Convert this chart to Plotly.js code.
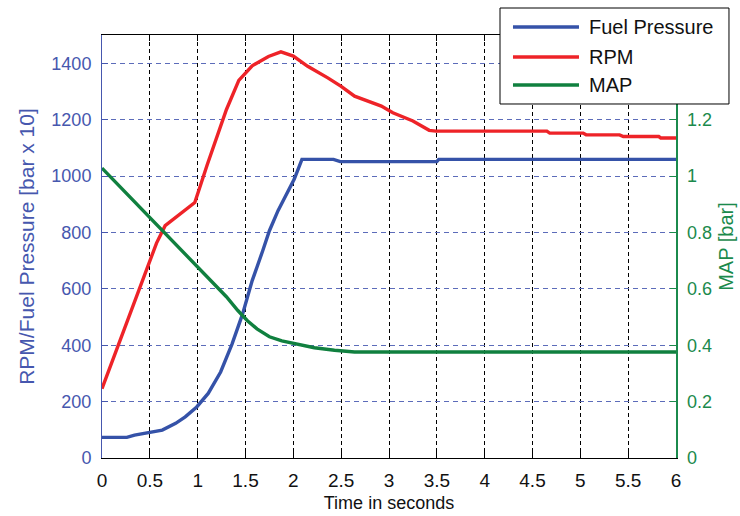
<!DOCTYPE html>
<html>
<head>
<meta charset="utf-8">
<script src="https://cdn.plot.ly/plotly-3.0.1.min.js"></script>
<style>
  html, body { margin: 0; padding: 0; background: #ffffff; }
  #chart { width: 740px; height: 516px; }
</style>
</head>
<body>
<div id="chart"></div>
<script>
// Engine start-up trace: fuel pressure, engine speed and manifold pressure vs. time

// Fuel pressure [bar x 10] (left axis)
const fuelTime = [0, 0.26, 0.34, 0.5, 0.63, 0.77, 0.87, 0.99, 1.11, 1.24, 1.36, 1.47, 1.57, 1.68, 1.75, 1.84, 1.94, 2.01, 2.09, 2.42, 2.49, 3.50, 3.52, 6];
const fuelPressure = [73, 73, 81, 90, 99, 123, 146, 181, 229, 305, 405, 511, 629, 735, 806, 877, 941, 989, 1059, 1059, 1051, 1051, 1059, 1059];

// Engine speed [RPM] (left axis)
const rpmTime = [0, 0.13, 0.27, 0.39, 0.48, 0.57, 0.66, 0.77, 0.89, 0.97, 1.1, 1.2, 1.3, 1.43, 1.57, 1.74, 1.87, 2.0, 2.15, 2.36, 2.5, 2.64, 2.78, 2.92, 3.04, 3.25, 3.42, 3.49, 4.65, 4.68, 5.03, 5.06, 5.41, 5.45, 5.82, 5.84, 6];
const rpm = [246, 365, 490, 602, 688, 762, 824, 853, 883, 906, 1040, 1140, 1235, 1339, 1391, 1424, 1440, 1425, 1389, 1348, 1318, 1283, 1265, 1248, 1224, 1195, 1162, 1159, 1159, 1152, 1152, 1146, 1146, 1140, 1140, 1135, 1135];

// Manifold absolute pressure [bar] (right axis)
const mapTime = [0, 0.5, 1.0, 1.3, 1.42, 1.52, 1.62, 1.75, 1.88, 2.01, 2.22, 2.43, 2.64, 6];
const mapPressure = [1.028, 0.852, 0.678, 0.572, 0.523, 0.487, 0.458, 0.430, 0.415, 0.405, 0.391, 0.382, 0.376, 0.376];

const seriesNames = ['Fuel Pressure', 'RPM', 'MAP'];
const xTicks = [0, 0.5, 1, 1.5, 2, 2.5, 3, 3.5, 4, 4.5, 5, 5.5, 6];
const xTickText = ['0', '0.5', '1', '1.5', '2', '2.5', '3', '3.5', '4', '4.5', '5', '5.5', '6'];
const leftTicks = [0, 200, 400, 600, 800, 1000, 1200, 1400];
const rightTicks = [0, 0.2, 0.4, 0.6, 0.8, 1, 1.2];
const rightTickText = ['0', '0.2', '0.4', '0.6', '0.8', '1', '1.2'];

const BLUE = '#3552a8';
const RED = '#ee2328';
const GREEN = '#10803f';
const AXIS_BLUE = '#4657ae';
const AXIS_GREEN = '#1b8a4c';
const FONT = 'Liberation Sans, Arial, sans-serif';

const traces = [
  { x: fuelTime, y: fuelPressure, name: seriesNames[0], type: 'scatter', mode: 'lines',
    line: { color: BLUE, width: 3.4 }, yaxis: 'y' },
  { x: rpmTime, y: rpm, name: seriesNames[1], type: 'scatter', mode: 'lines',
    line: { color: RED, width: 3.4 }, yaxis: 'y' },
  { x: mapTime, y: mapPressure, name: seriesNames[2], type: 'scatter', mode: 'lines',
    line: { color: GREEN, width: 3.4 }, yaxis: 'y2' }
];

// Boxed legend in the upper right, partly outside the plot area
const legColors = [BLUE, RED, GREEN];
const legRowY = [1.0189, 0.948, 0.8818];
const shapes = [
  { type: 'rect', xref: 'paper', yref: 'paper', x0: 0.6934, x1: 1.0923, y0: 0.8369, y1: 1.0638,
    fillcolor: '#ffffff', line: { color: '#000000', width: 1 }, layer: 'above' }
];
const annotations = [];
seriesNames.forEach((name, i) => {
  shapes.push({ type: 'line', xref: 'paper', yref: 'paper', x0: 0.716, x1: 0.831,
    y0: legRowY[i], y1: legRowY[i], line: { color: legColors[i], width: 3.4 }, layer: 'above' });
  annotations.push({ xref: 'paper', yref: 'paper', x: 0.845, y: legRowY[i],
    xanchor: 'left', yanchor: 'middle', showarrow: false, text: name,
    font: { family: FONT, size: 20, color: '#111111' } });
});

const layout = {
  width: 740,
  height: 516,
  margin: { l: 102, r: 64, t: 35, b: 58 },
  paper_bgcolor: '#ffffff',
  plot_bgcolor: '#ffffff',
  showlegend: false,
  font: { family: FONT },
  xaxis: {
    range: [0, 6],
    tickvals: xTicks,
    ticktext: xTickText,
    ticks: 'inside',
    ticklen: 6,
    tickcolor: '#000000',
    ticklabelstandoff: 5,
    tickfont: { family: FONT, size: 19, color: '#111111' },
    showline: true,
    linecolor: '#000000',
    linewidth: 1,
    mirror: 'ticks',
    showgrid: true,
    gridcolor: '#000000',
    griddash: '4px,3px',
    gridwidth: 1,
    zeroline: false,
    title: { text: 'Time in seconds', standoff: 6, font: { family: FONT, size: 18, color: '#111111' } }
  },
  yaxis: {
    range: [0, 1500],
    tickvals: leftTicks,
    ticks: 'inside',
    ticklen: 6,
    tickcolor: AXIS_BLUE,
    ticklabelstandoff: 6,
    tickfont: { family: FONT, size: 18, color: AXIS_BLUE },
    showline: true,
    linecolor: AXIS_BLUE,
    linewidth: 1,
    showgrid: true,
    gridcolor: '#5c6cba',
    griddash: '5px,4px',
    gridwidth: 1,
    zeroline: false,
    title: { text: 'RPM/Fuel Pressure [bar x 10]', standoff: 11, font: { family: FONT, size: 21, color: AXIS_BLUE } }
  },
  yaxis2: {
    overlaying: 'y',
    side: 'right',
    range: [0, 1.5],
    tickvals: rightTicks,
    ticktext: rightTickText,
    ticks: 'inside',
    ticklen: 6,
    tickcolor: AXIS_GREEN,
    ticklabelstandoff: 6,
    tickfont: { family: FONT, size: 18, color: AXIS_GREEN },
    showline: true,
    linecolor: AXIS_GREEN,
    linewidth: 1.5,
    showgrid: false,
    zeroline: false,
    title: { text: 'MAP [bar]', standoff: 8, font: { family: FONT, size: 20, color: AXIS_GREEN } }
  },
  shapes: shapes,
  annotations: annotations
};

Plotly.newPlot('chart', traces, layout, { staticPlot: true, displayModeBar: false });
</script>
</body>
</html>
